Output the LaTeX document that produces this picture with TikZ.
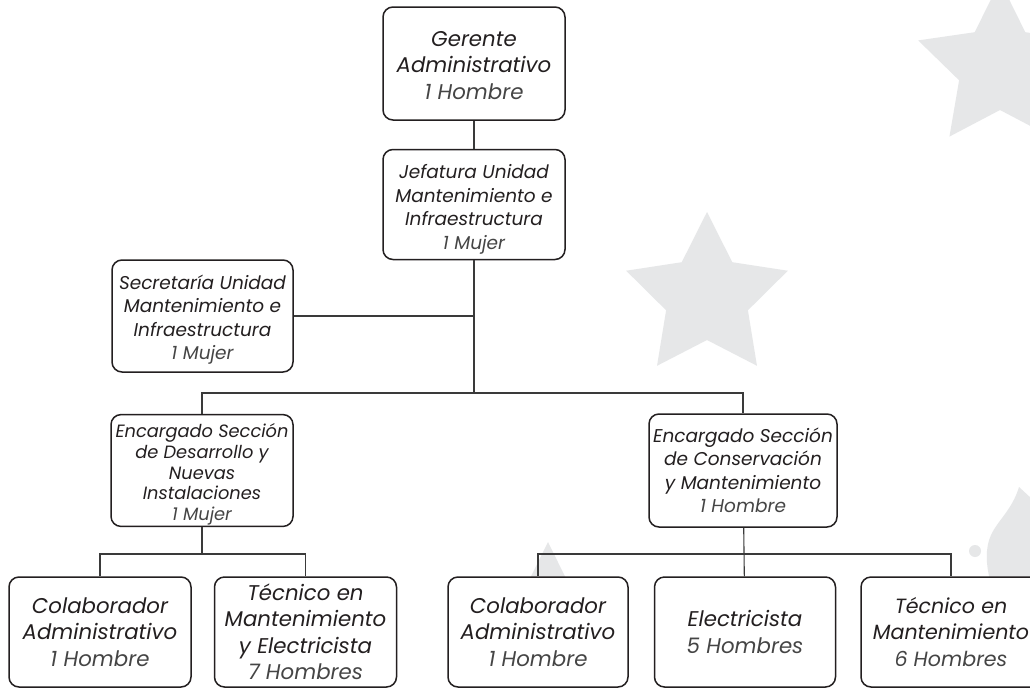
\documentclass[tikz,border=0pt]{standalone}
\usepackage{fontspec}
\setmainfont{Poppins}
\usepackage{tikz}
\usetikzlibrary{positioning,calc}
\definecolor{BoxLine}{HTML}{231F20}
\definecolor{LinkLine}{HTML}{3A3A3A}
\definecolor{TextMain}{HTML}{231F20}
\definecolor{TextCount}{HTML}{454545}
\definecolor{StarGrey}{HTML}{E6E7E8}
\tikzset{
  orgbox/.style={draw=BoxLine,fill=white,rounded corners=10pt,line width=1.5pt,align=center,inner sep=1pt,minimum width=182pt,minimum height=110pt,text=TextMain},
  bigtext/.style={font=\fontsize{21.3}{26.5}\selectfont\itshape},
  midtext/.style={font=\fontsize{18.5}{23.5}\selectfont\itshape},
  smalltext/.style={font=\fontsize{17.8}{20.8}\selectfont\itshape},
  link/.style={draw=LinkLine,line width=1.1pt},
  bgstar/.style={fill=StarGrey}
}
\newcommand{\headcount}[1]{\textcolor{TextCount}{#1}}
\newcommand{\toppad}[1]{\rule{0pt}{#1}}

\begin{document}
\begin{tikzpicture}[x=1pt,y=-1pt]
\useasboundingbox (0,0) rectangle (1030,688);
\clip (0,0) rectangle (1030,688);
\fill[white] (0,0) rectangle (1030,688);
\fill[bgstar,shift={(707,297)}] (-90:85) \foreach \k in {0,...,4}{ -- (-54+72*\k:43) -- (-18+72*\k:85)} -- cycle;
\fill[bgstar,shift={(1000,67)}] (-90:86) \foreach \k in {0,...,4}{ -- (-54+72*\k:43) -- (-18+72*\k:86)} -- cycle;
\fill[bgstar,shift={(548,622)}] (-90:80) \foreach \k in {0,...,4}{ -- (-54+72*\k:40) -- (-18+72*\k:80)} -- cycle;
\fill[bgstar] (1019,487) -- (1032,499) -- (1032,580) -- (990,580) .. controls (986,565) and (985,548) .. (991,535) .. controls (998,520) and (1012,510) .. (1019,487) -- cycle;
\fill[bgstar] (975,551) circle (6);
\node[orgbox,bigtext,minimum height=113pt] (gerente) at (474,63.5) {\toppad{19pt}Gerente\\Administrativo\\\headcount{1 Hombre}};
\node[orgbox,midtext,below=28pt of gerente] (jefatura) {\toppad{24pt}Jefatura Unidad\\Mantenimiento e\\Infraestructura\\\headcount{1 Mujer}};
\node[orgbox,midtext,minimum width=181pt,minimum height=112pt] (secretaria) at (202.5,316) {\toppad{22pt}Secretaría Unidad\\Mantenimiento e\\Infraestructura\\\headcount{1 Mujer}};
\node[orgbox,smalltext,minimum height=111pt] (desarrollo) at (202,470.5) {\toppad{22pt}Encargado Sección\\de Desarrollo y\\Nuevas\\Instalaciones\\\headcount{1 Mujer}};
\node[orgbox,midtext,minimum width=188pt,minimum height=113pt] (conservacion) at (743,470.5) {Encargado Sección\\de Conservación\\y Mantenimiento\\\headcount{1 Hombre}};
\node[orgbox,bigtext] (colab1) at (100,632) {Colaborador\\Administrativo\\\headcount{1 Hombre}};
\node[orgbox,bigtext,right=22pt of colab1] (tecnico1) {Técnico en\\Mantenimiento\\y Electricista\\\headcount{7 Hombres}};
\node[orgbox,bigtext,minimum width=180pt] (colab2) at (538,632) {Colaborador\\Administrativo\\\headcount{1 Hombre}};
\node[orgbox,bigtext,minimum width=181pt,right=25pt of colab2] (electricista) {Electricista\\\headcount{5 Hombres}};
\node[orgbox,bigtext,minimum width=180pt,right=24pt of electricista,font=\fontsize{20.6}{26.5}\selectfont\itshape] (tecnico2) {Técnico en\\Mantenimiento\\\headcount{6 Hombres}};
\coordinate (topbus) at (474,393);
\coordinate (leftbus) at (202,554);
\coordinate (rightbus) at (743,554);
\draw[link] (gerente) -- (jefatura);
\draw[link] (jefatura) -- (topbus);
\draw[link] (secretaria) -- (secretaria -| topbus);
\draw[link] (desarrollo) |- (topbus) -| (conservacion);
\draw[link] (desarrollo) -- (leftbus);
\draw[link] (colab1) |- (leftbus) -| (tecnico1);
\draw[link] (conservacion) -- (electricista);
\draw[link] (colab2) |- (rightbus) -| (tecnico2);
\end{tikzpicture}
\end{document}
